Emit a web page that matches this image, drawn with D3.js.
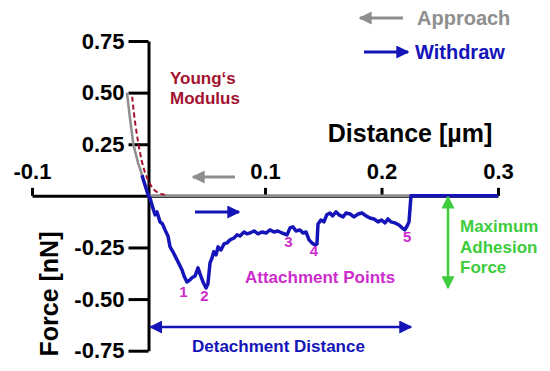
<!DOCTYPE html>
<html>
<head>
<meta charset="utf-8">
<script src="https://cdn.jsdelivr.net/npm/d3@7"></script>
<style>
  body { margin: 0; background: #fff; }
  svg { font-family: "Liberation Sans", Arial, sans-serif; font-weight: bold; }
</style>
</head>
<body>
<svg id="chart" width="550" height="371"></svg>
<script>
// tick values
var xTicks = [-0.1, 0.1, 0.2, 0.3];
var yTicks = [0.75, 0.5, 0.25, -0.25, -0.5, -0.75];

// approach curve (grey), distance in um, force in nN
var approachX = [-0.0185, -0.016, -0.013, -0.009, -0.006, -0.003, 0, 0.3];
var approachY = [0.5, 0.38, 0.25, 0.16, 0.11, 0.05, 0, 0];

// Young's modulus fit (dashed)
var fitX = [-0.014, -0.012, -0.009, -0.006, -0.003, 0, 0.003, 0.007, 0.014];
var fitY = [0.48, 0.37, 0.26, 0.17, 0.11, 0.07, 0.04, 0.015, 0.005];

// withdraw curve (blue)
var withdrawX = [-0.0056, -0.003, 0, 0.0013, 0.003, 0.0056, 0.0073, 0.0099, 0.012, 0.0142,
  0.0167, 0.0185, 0.021, 0.0245, 0.027, 0.0288, 0.0305, 0.033, 0.0356, 0.0373,
  0.040, 0.0425, 0.0442, 0.0468, 0.0494, 0.051, 0.0528, 0.0545, 0.056, 0.058,
  0.0597, 0.0622, 0.0648, 0.0674, 0.070, 0.0734, 0.076, 0.0785, 0.082, 0.0845,
  0.087, 0.0906, 0.094, 0.0974, 0.1009, 0.1043, 0.1077, 0.111, 0.1146, 0.1189,
  0.1215, 0.124, 0.1266, 0.130, 0.1326, 0.1352, 0.1378, 0.1403, 0.143, 0.1446,
  0.1455, 0.148, 0.1506, 0.153, 0.1558, 0.158, 0.161, 0.1635, 0.167, 0.1695,
  0.173, 0.1764, 0.180, 0.1833, 0.1867, 0.190, 0.1936, 0.197, 0.200, 0.203,
  0.2055, 0.208, 0.2115, 0.215, 0.2176, 0.220, 0.222, 0.2236, 0.2253, 0.300];
var withdrawY = [0.100, 0.053, 0, -0.010, -0.044, -0.092, -0.078, -0.126, -0.136, -0.165,
  -0.194, -0.247, -0.271, -0.310, -0.339, -0.359, -0.388, -0.417, -0.407, -0.397,
  -0.388, -0.349, -0.378, -0.417, -0.446, -0.426, -0.325, -0.301, -0.271, -0.286,
  -0.247, -0.262, -0.233, -0.228, -0.213, -0.204, -0.189, -0.194, -0.175, -0.184,
  -0.180, -0.170, -0.184, -0.175, -0.180, -0.165, -0.175, -0.170, -0.180, -0.189,
  -0.155, -0.150, -0.170, -0.165, -0.180, -0.175, -0.213, -0.228, -0.238, -0.233,
  -0.136, -0.117, -0.126, -0.092, -0.083, -0.097, -0.078, -0.092, -0.102, -0.083,
  -0.088, -0.102, -0.088, -0.083, -0.097, -0.107, -0.112, -0.126, -0.117, -0.131,
  -0.112, -0.126, -0.131, -0.141, -0.155, -0.165, -0.146, -0.126, 0, 0];

// attachment point labels
var attachLabels = ["1", "2", "3", "4", "5"];
var attachX = [0.030, 0.048, 0.120, 0.142, 0.222];
var attachY = [-0.49, -0.51, -0.25, -0.29, -0.225];

var svg = d3.select("#chart");

var x = d3.scaleLinear().domain([-0.1, 0.3]).range([32, 498]);
var y = d3.scaleLinear().domain([0.75, -0.75]).range([41, 350.7]);

var blue = "#1414b8", grey = "#8e8e8e", red = "#a3122f", magenta = "#cc2ccc", green = "#3ccc3c";

// arrow markers
var defs = svg.append("defs");
function marker(id, color, w, h) {
  defs.append("marker")
    .attr("id", id)
    .attr("viewBox", "0 0 10 10")
    .attr("refX", 9).attr("refY", 5)
    .attr("markerUnits", "userSpaceOnUse")
    .attr("markerWidth", w).attr("markerHeight", h)
    .attr("orient", "auto-start-reverse")
    .append("path").attr("d", "M0,0L10,5L0,10z").attr("fill", color);
}
marker("ag", grey, 13, 13);
marker("ab", blue, 13, 13);
marker("agr", green, 13, 13);

function fmt(p) {
  return function(d) { return d3.format(p)(d).replace("\u2212", "-"); };
}

// axes
svg.append("g")
  .attr("transform", "translate(0," + y(0) + ")")
  .call(d3.axisTop(x).tickValues(xTicks).tickSize(8).tickSizeOuter(0).tickPadding(9).tickFormat(fmt(".1f")));

svg.append("g")
  .attr("transform", "translate(" + x(0) + ",0)")
  .call(d3.axisLeft(y).tickValues(yTicks).tickSize(20).tickSizeOuter(0).tickPadding(4).tickFormat(fmt(".2f")));

svg.selectAll(".tick line, .domain").attr("stroke", "#000").attr("stroke-width", 3);
svg.selectAll(".tick text").attr("fill", "#000").attr("font-size", 22)
  .attr("font-family", "Liberation Sans, Arial, sans-serif").attr("font-weight", "bold");

var line = d3.line().x(function(d) { return x(d[0]); }).y(function(d) { return y(d[1]); });

// approach
svg.append("path")
  .datum(d3.zip(approachX, approachY))
  .attr("d", line)
  .attr("fill", "none").attr("stroke", grey).attr("stroke-width", 2.5);

// Young's modulus fit
svg.append("path")
  .datum(d3.zip(fitX, fitY))
  .attr("d", d3.line().x(function(d) { return x(d[0]); }).y(function(d) { return y(d[1]); }).curve(d3.curveBasis))
  .attr("fill", "none").attr("stroke", red).attr("stroke-width", 2).attr("stroke-dasharray", "5,3");

// withdraw
svg.append("path")
  .datum(d3.zip(withdrawX, withdrawY))
  .attr("d", line)
  .attr("fill", "none").attr("stroke", blue).attr("stroke-width", 3.5).attr("stroke-linejoin", "round");

// axis titles
svg.append("text").attr("x", 410).attr("y", 142).attr("text-anchor", "middle")
  .attr("font-size", 25).attr("fill", "#000").text("Distance [\u00b5m]");
svg.append("text").attr("transform", "translate(58,294) rotate(-90)").attr("text-anchor", "middle")
  .attr("font-size", 25).attr("fill", "#000").text("Force [nN]");

// legend
svg.append("line").attr("x1", 403).attr("x2", 360).attr("y1", 18).attr("y2", 18)
  .attr("stroke", grey).attr("stroke-width", 3).attr("marker-end", "url(#ag)");
svg.append("text").attr("x", 417).attr("y", 25).attr("font-size", 20).attr("fill", grey).text("Approach");
svg.append("line").attr("x1", 364).attr("x2", 408).attr("y1", 52).attr("y2", 52)
  .attr("stroke", blue).attr("stroke-width", 3).attr("marker-end", "url(#ab)");
svg.append("text").attr("x", 415).attr("y", 59).attr("font-size", 20).attr("fill", blue).text("Withdraw");

// in-plot direction arrows
svg.append("line").attr("x1", 235).attr("x2", 193).attr("y1", 177).attr("y2", 177)
  .attr("stroke", grey).attr("stroke-width", 3).attr("marker-end", "url(#ag)");
svg.append("line").attr("x1", 195).attr("x2", 239).attr("y1", 212).attr("y2", 212)
  .attr("stroke", blue).attr("stroke-width", 3).attr("marker-end", "url(#ab)");

// Young's modulus label
svg.append("text").attr("x", 170).attr("y", 84).attr("font-size", 17).attr("fill", red).text("Young\u2018s");
svg.append("text").attr("x", 170).attr("y", 104).attr("font-size", 17).attr("fill", red).text("Modulus");

// attachment points
svg.selectAll(".num").data(attachLabels).enter().append("text")
  .attr("class", "num")
  .attr("x", function(d, i) { return x(attachX[i]); })
  .attr("y", function(d, i) { return y(attachY[i]); })
  .attr("text-anchor", "middle").attr("font-size", 15).attr("fill", magenta)
  .text(function(d) { return d; });
svg.append("text").attr("x", 245).attr("y", 283).attr("font-size", 17).attr("fill", magenta).text("Attachment Points");

// detachment distance
svg.append("line").attr("x1", x(0) + 2).attr("x2", x(0.2253)).attr("y1", 327).attr("y2", 327)
  .attr("stroke", blue).attr("stroke-width", 2.5)
  .attr("marker-start", "url(#ab)").attr("marker-end", "url(#ab)");
svg.append("text").attr("x", 192).attr("y", 352).attr("font-size", 17).attr("fill", blue).text("Detachment Distance");

// maximum adhesion force
svg.append("line").attr("x1", 448).attr("x2", 448).attr("y1", y(0) + 1).attr("y2", y(-0.446))
  .attr("stroke", green).attr("stroke-width", 2.5)
  .attr("marker-start", "url(#agr)").attr("marker-end", "url(#agr)");
svg.append("text").attr("x", 460).attr("y", 232).attr("font-size", 17).attr("fill", green).text("Maximum");
svg.append("text").attr("x", 460).attr("y", 253).attr("font-size", 17).attr("fill", green).text("Adhesion");
svg.append("text").attr("x", 460).attr("y", 273).attr("font-size", 17).attr("fill", green).text("Force");
</script>
</body>
</html>
